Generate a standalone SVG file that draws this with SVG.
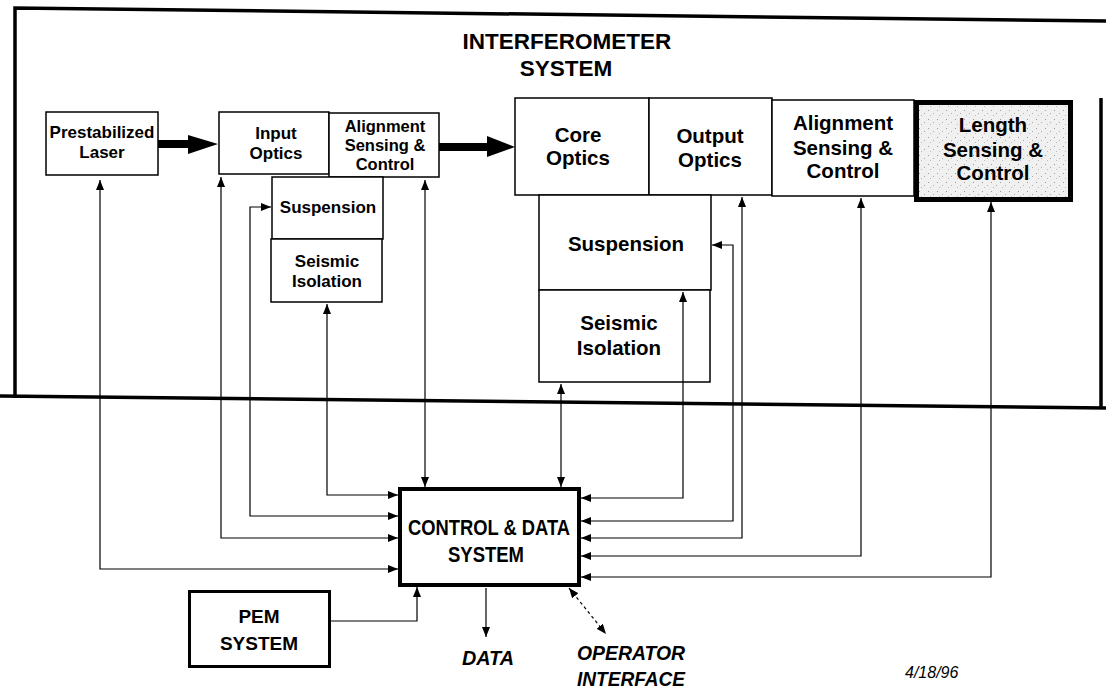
<svg xmlns="http://www.w3.org/2000/svg" width="1106" height="691" viewBox="0 0 1106 691">
<defs>
<style>
.t{font-family:"Liberation Sans",Arial,sans-serif;font-weight:bold;fill:#000;text-anchor:middle}
.box{fill:#fff;stroke:#000;stroke-width:1.5}
.ln{fill:none;stroke:#000;stroke-width:1.2}
.frame{fill:none;stroke:#000;stroke-width:3.5}
</style>
<marker id="ah" viewBox="0 0 10 8" refX="10" refY="4" markerWidth="10" markerHeight="8" markerUnits="userSpaceOnUse" orient="auto-start-reverse">
<path d="M0,0 L10,4 L0,8 z" fill="#000"/>
</marker>
<pattern id="stip" width="9" height="9" patternUnits="userSpaceOnUse">
<rect width="9" height="9" fill="#f0f0f0"/>
<rect x="1" y="2" width="1" height="1" fill="#999"/>
<rect x="6" y="5" width="1" height="1" fill="#aaa"/>
<rect x="3" y="7" width="1" height="1" fill="#bbb"/>
</pattern>
</defs>

<g id="frame">
<path class="frame" d="M15,398 L15,8 L1106,21"/>
<path class="frame" d="M0,396 L1106,408"/>
<path class="frame" d="M1101,98 L1101,407"/>
<text class="t" x="567" y="49" font-size="22.5">INTERFEROMETER</text>
<text class="t" x="566" y="76" font-size="22.5">SYSTEM</text>
</g>

<g id="prestabilized-laser">
<rect class="box" x="46" y="112" width="112" height="63"/>
<text class="t" x="102" y="138" font-size="17">Prestabilized</text>
<text class="t" x="102" y="158" font-size="17">Laser</text>
</g>

<g id="input-optics">
<rect class="box" x="219" y="112" width="110" height="62"/>
<text class="t" x="276" y="139" font-size="17">Input</text>
<text class="t" x="276" y="159" font-size="17">Optics</text>
</g>

<g id="alignment-small">
<rect class="box" x="329" y="113" width="110" height="64"/>
<text class="t" x="385" y="132" font-size="16.5">Alignment</text>
<text class="t" x="385" y="151" font-size="16.5">Sensing &amp;</text>
<text class="t" x="385" y="170" font-size="16.5">Control</text>
</g>

<g id="suspension-left">
<rect class="box" x="272" y="177" width="111" height="62"/>
<text class="t" x="328" y="213" font-size="17">Suspension</text>
</g>

<g id="seismic-left">
<rect class="box" x="271" y="239" width="111" height="63"/>
<text class="t" x="327" y="267" font-size="17">Seismic</text>
<text class="t" x="327" y="287" font-size="17">Isolation</text>
</g>

<g id="beam-arrows">
<path d="M158,140 H188 V135 L218,144 L188,154 V148 H158 z" fill="#000"/>
<path d="M439,143 H487 V136 L515,147 L487,157 V151 H439 z" fill="#000"/>
</g>

<g id="core-optics">
<rect class="box" x="515" y="98" width="134" height="97"/>
<text class="t" x="578" y="142" font-size="20.5">Core</text>
<text class="t" x="578" y="165" font-size="20.5">Optics</text>
</g>

<g id="output-optics">
<rect class="box" x="649" y="98" width="123" height="97"/>
<text class="t" x="710" y="143" font-size="20.5">Output</text>
<text class="t" x="710" y="167" font-size="20.5">Optics</text>
</g>

<g id="alignment-big">
<rect class="box" x="772" y="100" width="142" height="96"/>
<text class="t" x="843" y="130" font-size="20.5">Alignment</text>
<text class="t" x="843" y="155" font-size="20.5">Sensing &amp;</text>
<text class="t" x="843" y="178" font-size="20.5">Control</text>
</g>

<g id="length-sensing">
<rect x="916.5" y="102.5" width="154" height="97" fill="url(#stip)" stroke="#000" stroke-width="5"/>
<text class="t" x="993" y="132" font-size="20.5">Length</text>
<text class="t" x="993" y="157" font-size="20.5">Sensing &amp;</text>
<text class="t" x="993" y="180" font-size="20.5">Control</text>
</g>

<g id="suspension-right">
<rect class="box" x="539" y="195" width="172" height="95"/>
<text class="t" x="626" y="251" font-size="20.5">Suspension</text>
</g>

<g id="seismic-right">
<rect class="box" x="539" y="290" width="171" height="92"/>
<text class="t" x="619" y="330" font-size="20.5">Seismic</text>
<text class="t" x="619" y="355" font-size="20.5">Isolation</text>
</g>

<g id="control-data-system">
<rect x="400" y="489" width="179" height="96" fill="#fff" stroke="#000" stroke-width="4"/>
<text class="t" x="489" y="535" font-size="22" textLength="162" lengthAdjust="spacingAndGlyphs">CONTROL &amp; DATA</text>
<text class="t" x="486" y="562" font-size="22" textLength="76" lengthAdjust="spacingAndGlyphs">SYSTEM</text>
</g>

<g id="pem-system">
<rect x="189.5" y="591.5" width="140" height="75" fill="#fff" stroke="#000" stroke-width="3"/>
<text class="t" x="259" y="623" font-size="19">PEM</text>
<text class="t" x="259" y="650" font-size="19">SYSTEM</text>
</g>

<g id="outputs">
<text class="t" x="488" y="665" font-size="20" font-style="italic" textLength="52" lengthAdjust="spacingAndGlyphs">DATA</text>
<text class="t" x="631" y="660" font-size="20" font-style="italic" textLength="108" lengthAdjust="spacingAndGlyphs">OPERATOR</text>
<text class="t" x="631" y="686" font-size="20" font-style="italic" textLength="108" lengthAdjust="spacingAndGlyphs">INTERFACE</text>
<text x="905" y="678" font-family="Liberation Sans,Arial,sans-serif" font-size="16" font-style="italic">4/18/96</text>
</g>

<g id="connectors">
<path class="ln" d="M100,180 V569 H398" marker-start="url(#ah)" marker-end="url(#ah)"/>
<path class="ln" d="M221,177 V538 H398" marker-start="url(#ah)" marker-end="url(#ah)"/>
<path class="ln" d="M271,207 H250 V516 H398" marker-start="url(#ah)" marker-end="url(#ah)"/>
<path class="ln" d="M327,304 V495 H398" marker-start="url(#ah)" marker-end="url(#ah)"/>
<path class="ln" d="M425,180 V487" marker-start="url(#ah)" marker-end="url(#ah)"/>
<path class="ln" d="M561,384 V487" marker-start="url(#ah)" marker-end="url(#ah)"/>
<path class="ln" d="M683,292 V498 H581" marker-start="url(#ah)" marker-end="url(#ah)"/>
<path class="ln" d="M712,245 H733 V521 H581" marker-start="url(#ah)" marker-end="url(#ah)"/>
<path class="ln" d="M742,197 V538 H581" marker-start="url(#ah)" marker-end="url(#ah)"/>
<path class="ln" d="M861,198 V556 H581" marker-start="url(#ah)" marker-end="url(#ah)"/>
<path class="ln" d="M991,202 V577 H581" marker-start="url(#ah)" marker-end="url(#ah)"/>
<path class="ln" d="M330,621 H417 V587" marker-end="url(#ah)"/>
<path class="ln" d="M486,588 V637" marker-end="url(#ah)"/>
<path class="ln" d="M569,588 L606,634" stroke-dasharray="3,3" marker-start="url(#ah)" marker-end="url(#ah)"/>
</g>
</svg>
